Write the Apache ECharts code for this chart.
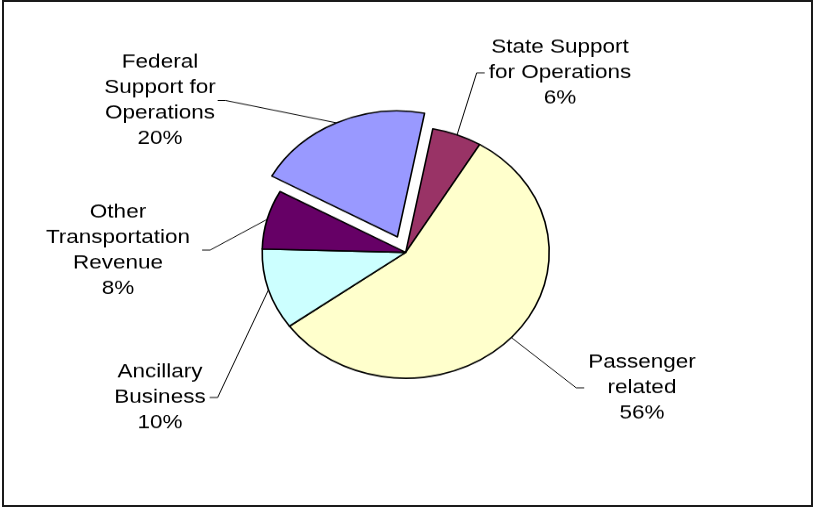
<!DOCTYPE html>
<html><head><meta charset="utf-8">
<script src="https://cdn.jsdelivr.net/npm/echarts@6/dist/echarts.min.js"></script>
<style>
html,body{margin:0;padding:0;background:#fff;overflow:hidden;width:814px;height:508px;}
#chart{position:absolute;left:0;top:0;width:814px;height:579px;transform:scaleY(0.8774);transform-origin:0 0;}
#frame{position:absolute;left:2px;top:0;width:811px;height:507px;box-sizing:border-box;border:2px solid #1a1a1a;pointer-events:none;}
</style></head><body>
<div id="chart"></div><div id="frame"></div>
<script>
// Data
const categories = ['State Support\nfor Operations', 'Passenger\nrelated', 'Ancillary\nBusiness', 'Other\nTransportation\nRevenue', 'Federal\nSupport for\nOperations'];
const values = [5.6, 56.4, 10.4, 7.6, 20.0];
const colors = ['#993366', '#FFFFCC', '#CCFFFF', '#660066', '#9999FF'];
const explodedIndex = 4;

// layout
const center = [405.7, 287.6];
const radius = 143.5;
const startAngle = 79.1;
const explodeOffset = 19.5;
const labelAnchors = [
  {x: 560, y: 83, side: 'left', gap: 4},
  {x: 642, y: 442, side: 'left', gap: 4},
  {x: 160, y: 453, side: 'right', gap: 4},
  {x: 118, y: 285, side: 'right', gap: 12},
  {x: 160, y: 114.5, side: 'right', gap: 2}
];

const total = values.reduce((a, b) => a + b, 0);
const before = values.slice(0, explodedIndex).reduce((a, b) => a + b, 0);
const midDeg = startAngle - (before + values[explodedIndex] / 2) / total * 360;
const midRad = midDeg * Math.PI / 180;
const exCenter = [center[0] + Math.cos(midRad) * explodeOffset, center[1] - Math.sin(midRad) * explodeOffset];

const labelLayout = function (p) {
  const a = labelAnchors[p.dataIndex];
  const w = p.labelRect.width;
  const edgeX = a.side === 'left' ? a.x - w / 2 - a.gap : a.x + w / 2 + a.gap;
  const tick = a.side === 'left' ? -8 : 8;
  const res = {x: a.x, y: a.y, align: 'center', verticalAlign: 'middle'};
  if (p.labelLinePoints) {
    res.labelLinePoints = [p.labelLinePoints[0], [edgeX + tick, a.y], [edgeX, a.y]];
  }
  return res;
};

const baseSeries = {
  type: 'pie',
  radius: [0, radius],
  startAngle: startAngle,
  clockwise: true,
  silent: true,
  avoidLabelOverlap: false,
  emphasis: {disabled: true},
  itemStyle: {borderColor: '#000', borderWidth: 1.6},
  label: {
    show: true,
    position: 'outside',
    color: '#000',
    fontFamily: 'Liberation Sans, Arial, sans-serif',
    fontSize: 22.5,
    lineHeight: 29,
    align: 'center',
    formatter: p => p.name + '\n' + Math.round(p.percent) + '%'
  },
  labelLine: {show: true, length: 10, length2: 10, lineStyle: {color: '#000', width: 1}},
  labelLayout: labelLayout
};

function makeData(showFn) {
  return categories.map((c, i) => {
    const vis = showFn(i);
    return {
      name: c, value: values[i],
      itemStyle: vis ? {color: colors[i]} : {color: 'rgba(0,0,0,0)', borderWidth: 0},
      label: {show: vis},
      labelLine: {show: vis}
    };
  });
}

const chart = echarts.init(document.getElementById('chart'), null, {renderer: 'canvas'});
chart.setOption({
  animation: false,
  backgroundColor: '#fff',
  series: [
    Object.assign({}, baseSeries, {center: center, data: makeData(i => i !== explodedIndex)}),
    Object.assign({}, baseSeries, {center: exCenter, data: makeData(i => i === explodedIndex)})
  ]
});
</script>
</body></html>
